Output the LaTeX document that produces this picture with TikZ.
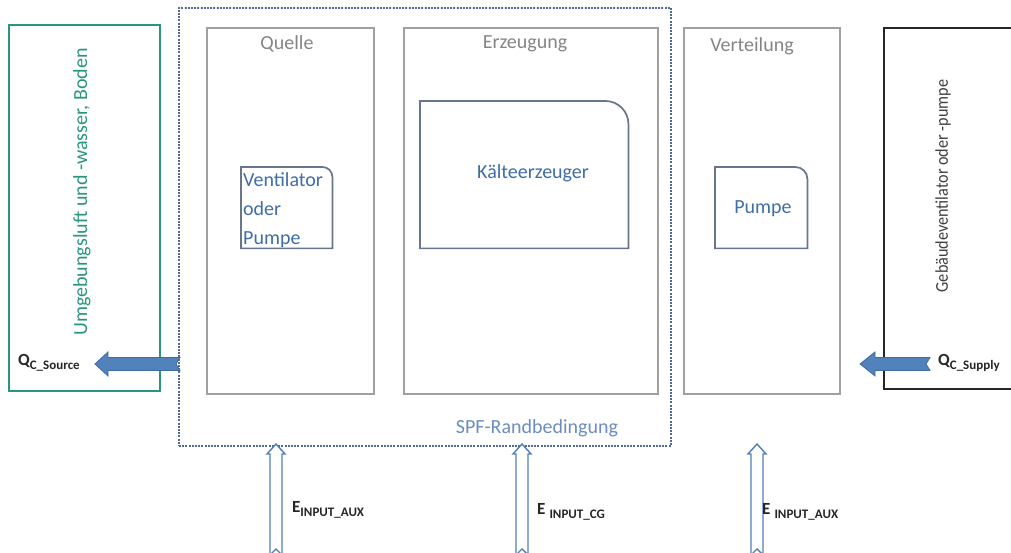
\documentclass[tikz,border=0pt]{standalone}
\usepackage{fontspec}
\setmainfont{Carlito}
\usetikzlibrary{calc}

\definecolor{boxgrey}{HTML}{A0A0A0}
\definecolor{txtgrey}{HTML}{858585}
\definecolor{txtblue}{HTML}{3F6DA8}
\definecolor{slate}{HTML}{67768C}
\definecolor{spfblue}{HTML}{52699A}
\definecolor{spftext}{HTML}{6C8DC0}
\definecolor{envgreen}{HTML}{2A957F}
\definecolor{flowfill}{HTML}{5282BC}
\definecolor{flowedge}{HTML}{3F6C9F}
\definecolor{inputedge}{HTML}{5080BA}

\newcommand{\flowlabel}[3]{%
  {\fontsize{17}{17}\selectfont\bfseries #1}\hspace{#3}%
  \raisebox{-3.5pt}{\fontsize{13}{13}\selectfont\bfseries #2}}

\begin{document}
\begin{tikzpicture}[x=1pt,y=1pt,
  frame/.style={draw=boxgrey, line width=1.9pt, inner sep=0pt, anchor=north west},
  unitbox/.style={inner sep=0pt, anchor=north west},
  unitline/.style={draw=slate, line width=1.7pt},
  title/.style={text=txtgrey, font=\fontsize{20}{24}\selectfont, inner sep=0pt},
  unittext/.style={text=txtblue, font=\fontsize{20}{24}\selectfont, inner sep=0pt},
  sidetext/.style={rotate=90, inner sep=0pt},
  flowarrow/.style={fill=flowfill, draw=flowedge, line width=0.8pt, line join=miter},
  inputarrow/.style={fill=white, draw=inputedge, line width=1.4pt, line join=miter},
  flowtext/.style={inner sep=0pt, anchor=west, text=black!85}
]
\clip (0,0) rectangle (1011,553);
\fill[white] (0,0) rectangle (1011,553);

% surroundings
\node[frame, draw=envgreen, line width=1.7pt, minimum width=151pt, minimum height=366pt] (env) at (8,529) {};
\node[sidetext, text=envgreen, font=\fontsize{20}{24}\selectfont] (envlabel) at (82,361) {Umgebungsluft und -wasser, Boden};

\node[frame, draw=black!85, line width=1.6pt, minimum width=140pt, minimum height=361pt] (bldg) at (883,526) {};
\node[sidetext, text=black!75, font=\fontsize{18}{22}\selectfont\addfontfeature{FakeStretch=0.9}] (bldglabel) at (943,367) {Gebäudeventilator oder -pumpe};

% system boundary
\node[inner sep=0pt, anchor=north west, draw=spfblue, line width=1.8pt,
      dash pattern=on 2pt off 1.2pt, minimum width=492pt, minimum height=438pt] (spf) at (178,546) {};
\node[text=spftext, font=\fontsize{20}{24}\selectfont, inner sep=0pt] (spflabel) at (537,125) {SPF-Randbedingung};

% subsystems
\node[frame, minimum width=167pt, minimum height=366pt] (quelle) at (206,526) {};
\node[title] (quellelabel) at (287,509) {Quelle};
\node[frame, minimum width=254pt, minimum height=366pt] (erz) at (403,526) {};
\node[title] (erzlabel) at (525,509) {Erzeugung};
\node[frame, minimum width=156pt, minimum height=366pt] (vert) at (683,526) {};
\node[title] (vertlabel) at (752,507) {Verteilung};

% components with one rounded corner
\node[unitbox, minimum width=91pt, minimum height=81pt] (vent) at (241,386) {};
\draw[unitline] (vent.south west) -- (vent.north west) -- ([xshift=-10pt]vent.north east)
  arc[start angle=90, end angle=0, radius=10pt] -- (vent.south east) -- cycle;
\node[unittext, anchor=base west] (vent1) at (243,366) {Ventilator};
\node[unittext, anchor=base west] (vent2) at (243,337) {oder};
\node[unittext, anchor=base west] (vent3) at (243,308) {Pumpe};

\node[unitbox, minimum width=208pt, minimum height=147pt] (kaelte) at (420,452) {};
\draw[unitline] (kaelte.south west) -- (kaelte.north west) -- ([xshift=-23pt]kaelte.north east)
  arc[start angle=90, end angle=0, radius=23pt] -- (kaelte.south east) -- cycle;
\node[unittext] (kaeltelabel) at (533,380) {Kälteerzeuger};

\node[unitbox, minimum width=92pt, minimum height=81pt] (pumpe) at (715,386) {};
\draw[unitline] (pumpe.south west) -- (pumpe.north west) -- ([xshift=-12pt]pumpe.north east)
  arc[start angle=90, end angle=0, radius=12pt] -- (pumpe.south east) -- cycle;
\node[unittext] (pumpelabel) at (763,344) {Pumpe};

% heat flows
\coordinate (srcTip) at (95,189);
\coordinate (srcTail) at (spf.west |- srcTip);
\draw[flowarrow] (srcTip) -- ++(13,12) -- ++(0,-5.5) -- ($(srcTail)+(2,6.5)$)
  -- ($(srcTail)+(-2,0)$) -- ($(srcTail)+(2,-6.5)$) -- ($(srcTip)+(13,-6.5)$) -- ++(0,-5.5) -- cycle;
\node[flowtext] (qsource) at (18,190) {\flowlabel{Q}{C\_Source}{0pt}};

\coordinate (supTip) at (860,189);
\coordinate (supTail) at (930,189);
\draw[flowarrow] (supTip) -- ++(15,12) -- ++(0,-5.5) -- ($(supTail)+(0,6.5)$)
  -- ($(supTail)+(-4,0)$) -- ($(supTail)+(0,-6.5)$) -- ($(supTip)+(15,-6.5)$) -- ++(0,-5.5) -- cycle;
\node[flowtext] (qsupply) at (938,190) {\flowlabel{Q}{C\_Supply}{0pt}};

% energy inputs
\foreach \n/\cx in {a/276, b/522, c/757}{
  \coordinate (in\n Tip) at (\cx,109);
  \coordinate (in\n Tail) at (\cx,-2);
  \draw[inputarrow] (in\n Tip) -- ++(9,-10) -- ++(-3,0) -- ($(in\n Tail)+(6,0)$)
    -- ($(in\n Tail)+(0,6)$) -- ($(in\n Tail)+(-6,0)$) -- ($(in\n Tip)+(-6,-10)$) -- ++(-3,0) -- cycle;
}
\node[flowtext] (einaux) at (292,43) {\flowlabel{E}{INPUT\_AUX}{0pt}};
\node[flowtext] (eincg) at (537,41) {\flowlabel{E}{INPUT\_CG}{4pt}};
\node[flowtext] (einaux2) at (762,41) {\flowlabel{E}{INPUT\_AUX}{4pt}};
\end{tikzpicture}
\end{document}
